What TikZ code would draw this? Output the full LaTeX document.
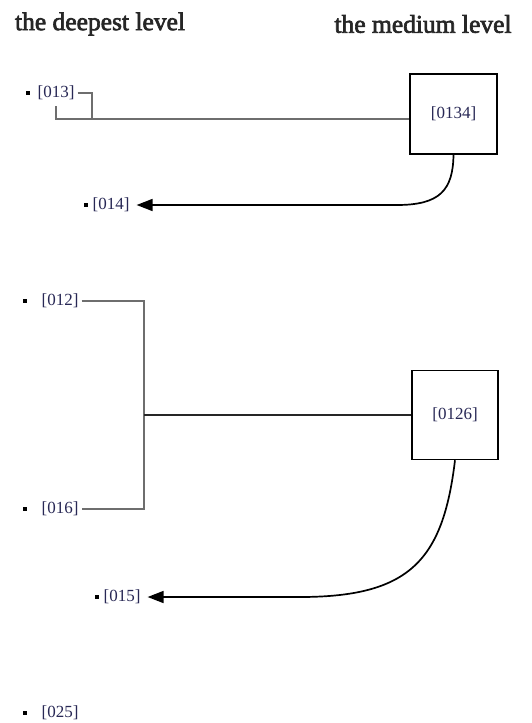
\documentclass[tikz,border=0pt]{standalone}
\usepackage{fontspec}
\setmainfont{Liberation Serif}
\newfontfamily\hdrfont[FakeBold=2.5]{Liberation Serif}
\usetikzlibrary{arrows.meta}
\definecolor{lbl}{RGB}{40,40,85}
\definecolor{lin}{RGB}{110,110,110}
\tikzset{
  header/.style={font=\hdrfont\fontsize{25.5}{28}\selectfont, text=black!85, inner sep=0pt},
  lab/.style={font=\fontsize{17}{19}\selectfont, text=lbl, inner sep=3pt},
  bul/.style={fill=black, minimum size=4.5pt, inner sep=0pt},
  lvlbox/.style={draw=black, line width=1.5pt, inner sep=0pt, font=\fontsize{17}{19}\selectfont, text=lbl},
  conn/.style={draw=lin, line width=1.2pt},
  darkconn/.style={draw=black!85, line width=1.3pt},
  arr/.style={draw=black, line width=1.7pt, -{Triangle[length=16pt,width=12pt]}}
}
\begin{document}
\begin{tikzpicture}[x=1pt,y=-1pt]
\useasboundingbox (0,0) rectangle (532,723);
% headers
\node[header] (h1) at (100,24) {the deepest level};
\node[header] (h2) at (423,24) {the medium level};
% boxes
\node[lvlbox, minimum width=87pt, minimum height=80pt] (b134) at (453.5,114) {[0134]};
\node[lvlbox, minimum width=86pt, minimum height=89pt] (b126) at (455,415) {[0126]};
% labels
\node[bul] (p13) at (28,93) {};
\node[lab] (t13) at (56,93) {[013]};
\node[bul] (p14) at (86,205) {};
\node[lab] (t14) at (111,205) {[014]};
\node[bul] (p12) at (25,301) {};
\node[lab] (t12) at (60,301) {[012]};
\node[bul] (p16) at (25,509) {};
\node[lab] (t16) at (60,509) {[016]};
\node[bul] (p15) at (97,597) {};
\node[lab] (t15) at (122,597) {[015]};
\node[bul] (p25) at (25,713) {};
\node[lab] (t25) at (60,713) {[025]};
% group 1
\coordinate (c13) at (56,119);
\coordinate (k13) at (92,119);
\draw[conn] (t13.east) -| (k13);
\draw[conn, shorten <=3pt] (t13.south) -- (c13) -- (c13 -| b134.west);
\draw[arr] (b134.south) .. controls (453,190) and (440,205) .. (397,205) -- ([xshift=4pt]t14.east);
% group 2
\coordinate (j) at (144,415);
\draw[conn] (t12.east) -| (j) |- (t16.east);
\draw[darkconn] (j) -- (b126.west);
\draw[arr] (b126.south) .. controls (443,560) and (410,597) .. (300,597) -- ([xshift=4pt]t15.east);
\end{tikzpicture}
\end{document}
